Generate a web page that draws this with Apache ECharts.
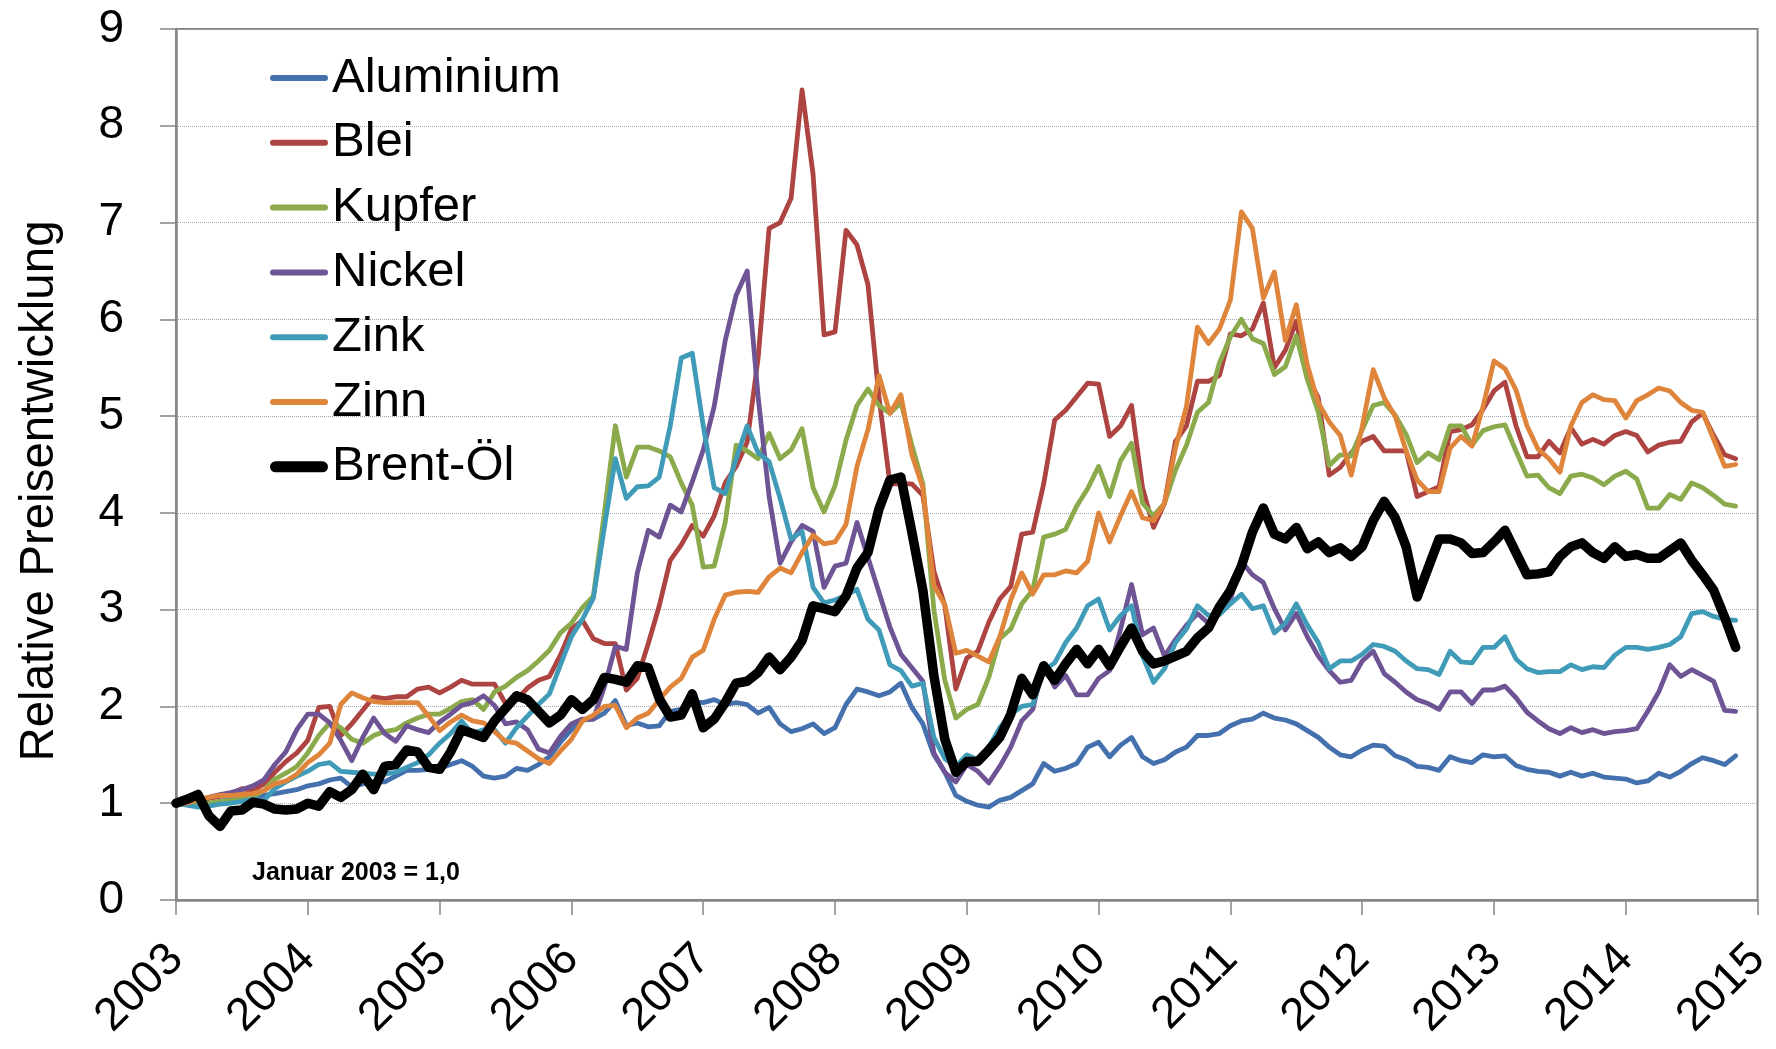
<!DOCTYPE html>
<html>
<head>
<meta charset="utf-8">
<script src="https://cdn.jsdelivr.net/npm/echarts@6/dist/echarts.min.js"></script>
<style>
  html, body { margin: 0; padding: 0; background: #fff; }
  #chart { width: 1776px; height: 1049px; }
</style>
</head>
<body>
<div id="chart"></div>
<script>
// Monatswerte Jan 2003 .. Nov 2014, relativ zu Januar 2003 = 1,0
const startYear = 2003
const seriesNames = ['Aluminium', 'Blei', 'Kupfer', 'Nickel', 'Zink', 'Zinn', 'Brent-Öl']
const seriesColors = ['#4471ae', '#ad4441', '#8baa4c', '#6e5494', '#3f9bb7', '#de853b', '#000000']

const aluminium = [
  1.0, 1.02, 1.0, 0.98, 1.02, 1.04, 1.05, 1.06, 1.08, 1.1, 1.12, 1.14, 1.18, 1.2, 1.24, 1.26, 1.17, 1.2, 1.22, 1.22, 1.28, 1.34, 1.34, 1.35, 1.36, 1.4,
  1.44, 1.38, 1.28, 1.26, 1.28, 1.36, 1.34, 1.4, 1.48, 1.63, 1.76, 1.86, 1.87, 1.93, 2.06, 1.8, 1.83, 1.79, 1.8, 1.95, 1.97, 2.05, 2.04,
  2.07, 2.02, 2.04, 2.02, 1.93, 1.99, 1.82, 1.74, 1.77, 1.82, 1.72, 1.78, 2.02, 2.18, 2.15, 2.11, 2.15, 2.24, 1.99, 1.82, 1.5, 1.32, 1.08, 1.02,
  0.98, 0.96, 1.03, 1.06, 1.13, 1.2, 1.41, 1.33, 1.36, 1.41, 1.58, 1.63, 1.48, 1.6, 1.68, 1.48, 1.41, 1.45, 1.53, 1.58, 1.7, 1.7, 1.72, 1.8,
  1.85, 1.87, 1.93, 1.88, 1.86, 1.82, 1.75, 1.68, 1.58, 1.5, 1.48, 1.55, 1.6, 1.59, 1.49, 1.45, 1.38, 1.37, 1.34, 1.48, 1.44, 1.42, 1.5,
  1.48, 1.49, 1.39, 1.35, 1.33, 1.32, 1.28, 1.32, 1.28, 1.31, 1.27, 1.26, 1.25, 1.21, 1.23, 1.31, 1.27, 1.33, 1.41, 1.47, 1.44, 1.4, 1.49
]
const blei = [
  1.0, 1.02, 1.03, 1.05, 1.07, 1.1, 1.15, 1.13, 1.2, 1.32, 1.43, 1.52, 1.65, 1.99, 2.0, 1.7, 1.82, 1.96, 2.1, 2.08, 2.1, 2.1, 2.18, 2.2, 2.14, 2.2,
  2.27, 2.23, 2.23, 2.23, 2.03, 2.07, 2.19, 2.27, 2.31, 2.53, 2.8, 2.89, 2.7, 2.65, 2.65, 2.17, 2.29, 2.65, 3.04, 3.51, 3.67, 3.87, 3.76,
  3.97, 4.31, 4.48, 4.73, 5.6, 6.94, 7.0, 7.25, 8.37, 7.5, 5.84, 5.87, 6.92, 6.77, 6.36, 5.2, 4.3, 4.3, 4.3, 4.18, 3.4, 3.04, 2.18, 2.5,
  2.57, 2.87, 3.11, 3.24, 3.78, 3.8, 4.3, 4.96, 5.06, 5.2, 5.34, 5.33, 4.79, 4.9, 5.11, 4.26, 3.85, 4.1, 4.74, 4.9, 5.36, 5.36, 5.42, 5.85,
  5.83, 5.9, 6.17, 5.5, 5.68, 5.98, 5.41, 5.19, 4.39, 4.47, 4.62, 4.74, 4.79, 4.64, 4.64, 4.64, 4.17, 4.22, 4.27, 4.84, 4.86, 4.91, 5.07,
  5.26, 5.35, 4.9, 4.58, 4.58, 4.74, 4.62, 4.88, 4.71, 4.76, 4.71, 4.8, 4.84, 4.8, 4.63, 4.7, 4.73, 4.74, 4.94, 5.03, 4.8, 4.6, 4.56
]
const kupfer = [
  1.0, 1.0, 0.99, 1.0, 1.02, 1.03, 1.05, 1.07, 1.13, 1.25, 1.31, 1.38, 1.52, 1.7, 1.83, 1.78, 1.66, 1.62, 1.7, 1.74, 1.76, 1.83, 1.88, 1.92, 1.92, 1.98,
  2.05, 2.07, 1.97, 2.15, 2.21, 2.3, 2.37, 2.47, 2.58, 2.76, 2.86, 3.02, 3.14, 4.0, 4.9, 4.37, 4.68, 4.68, 4.64, 4.58, 4.31, 4.08, 3.44,
  3.45, 3.9, 4.7, 4.64, 4.56, 4.82, 4.56, 4.65, 4.87, 4.26, 4.01, 4.28, 4.75, 5.11, 5.28, 5.11, 5.03, 5.14, 4.7, 4.3, 3.0, 2.27, 1.88, 1.97,
  2.02, 2.3, 2.7, 2.8, 3.06, 3.2, 3.75, 3.78, 3.83, 4.07, 4.25, 4.48, 4.17, 4.54, 4.72, 4.1, 3.97, 4.1, 4.44, 4.7, 5.04, 5.14, 5.55, 5.82,
  6.0, 5.8, 5.75, 5.43, 5.51, 5.83, 5.38, 5.04, 4.49, 4.6, 4.59, 4.86, 5.11, 5.14, 5.01, 4.81, 4.52, 4.62, 4.55, 4.9, 4.9, 4.7, 4.85,
  4.89, 4.91, 4.64, 4.38, 4.39, 4.26, 4.2, 4.38, 4.4, 4.36, 4.29, 4.38, 4.43, 4.35, 4.05, 4.05, 4.19, 4.14, 4.31, 4.26, 4.18, 4.09, 4.07
]
const nickel = [
  1.0, 1.04, 1.03, 1.06, 1.09, 1.11, 1.14, 1.18, 1.24, 1.4, 1.53, 1.76, 1.92, 1.92, 1.83, 1.65, 1.44, 1.68, 1.88, 1.72, 1.64, 1.8, 1.76, 1.73, 1.84, 1.92,
  2.01, 2.04, 2.11, 2.01, 1.82, 1.84, 1.76, 1.56, 1.52, 1.69, 1.82, 1.87, 1.87, 2.2, 2.62, 2.59, 3.38, 3.82, 3.75, 4.08, 4.01, 4.32, 4.65,
  5.1, 5.78, 6.25, 6.5, 5.2, 4.17, 3.48, 3.7, 3.87, 3.81, 3.23, 3.45, 3.48, 3.9, 3.54, 3.18, 2.82, 2.54, 2.4, 2.26, 1.52, 1.32, 1.22, 1.4,
  1.33, 1.21, 1.38, 1.58, 1.85, 1.97, 2.44, 2.2, 2.32, 2.12, 2.12, 2.29, 2.37, 2.8, 3.26, 2.74, 2.81, 2.52, 2.69, 2.84, 2.96, 2.86, 3.0, 3.1,
  3.5, 3.36, 3.28, 3.01, 2.79, 2.96, 2.72, 2.52, 2.37, 2.25, 2.27, 2.47, 2.57, 2.34, 2.25, 2.15, 2.07, 2.03, 1.97, 2.15, 2.15, 2.03, 2.17,
  2.17, 2.21, 2.09, 1.94, 1.85, 1.77, 1.72, 1.78, 1.73, 1.76, 1.72, 1.74, 1.75, 1.77, 1.95, 2.15, 2.43, 2.31, 2.38, 2.32, 2.26, 1.96, 1.95
]
const zink = [
  1.0, 0.98, 0.96, 0.97, 0.99, 1.0, 1.02, 1.04, 1.03, 1.15, 1.22, 1.28, 1.33, 1.4, 1.42, 1.33, 1.32, 1.31, 1.3, 1.3, 1.32, 1.37, 1.42, 1.5, 1.62, 1.72,
  1.85, 1.72, 1.76, 1.76, 1.62, 1.78, 1.9, 2.02, 2.13, 2.43, 2.72, 2.9, 3.12, 3.85, 4.56, 4.15, 4.27, 4.28, 4.37, 4.9, 5.6, 5.65, 4.9,
  4.26, 4.2, 4.56, 4.9, 4.62, 4.53, 4.15, 3.73, 3.81, 3.23, 3.07, 3.1, 3.15, 3.21, 2.9, 2.79, 2.43, 2.37, 2.21, 2.24, 1.68, 1.46, 1.38, 1.5,
  1.45, 1.58, 1.78, 1.92, 2.0, 2.02, 2.37, 2.45, 2.66, 2.81, 3.04, 3.11, 2.79, 2.94, 3.04, 2.52, 2.25, 2.39, 2.66, 2.8, 3.04, 2.94, 2.95, 3.06,
  3.16, 3.01, 3.04, 2.76, 2.86, 3.06, 2.84, 2.66, 2.39, 2.47, 2.47, 2.54, 2.64, 2.62, 2.57, 2.47, 2.39, 2.38, 2.33, 2.57, 2.46, 2.45, 2.61,
  2.61, 2.72, 2.49, 2.39, 2.35, 2.36, 2.36, 2.43, 2.38, 2.41, 2.4, 2.53, 2.61, 2.61, 2.59, 2.61, 2.64, 2.72, 2.96, 2.98, 2.93, 2.9, 2.89
]
const zinn = [
  1.0, 1.0, 1.04, 1.06, 1.08, 1.08, 1.09, 1.1, 1.13, 1.2, 1.23, 1.3, 1.42, 1.5, 1.62, 2.02, 2.14, 2.09, 2.05, 2.04, 2.04, 2.04, 2.04, 1.9, 1.75, 1.84,
  1.91, 1.85, 1.83, 1.74, 1.64, 1.62, 1.54, 1.46, 1.41, 1.54, 1.66, 1.85, 1.91, 2.0, 2.01, 1.78, 1.88, 1.93, 2.07, 2.2, 2.29, 2.51, 2.58,
  2.9, 3.15, 3.18, 3.19, 3.18, 3.34, 3.43, 3.38, 3.59, 3.77, 3.68, 3.7, 3.88, 4.48, 4.86, 5.42, 5.03, 5.22, 4.6, 4.26, 3.25, 3.05, 2.55, 2.58,
  2.52, 2.46, 2.72, 3.1, 3.38, 3.16, 3.36, 3.36, 3.4, 3.38, 3.5, 4.0, 3.7, 3.97, 4.22, 3.95, 3.92, 4.1, 4.67, 5.1, 5.92, 5.75, 5.9, 6.2,
  7.11, 6.94, 6.22, 6.49, 5.78, 6.15, 5.53, 5.14, 4.94, 4.8, 4.39, 4.89, 5.48, 5.19, 5.0, 4.64, 4.34, 4.22, 4.22, 4.67, 4.79, 4.69, 5.1,
  5.57, 5.49, 5.27, 4.9, 4.66, 4.56, 4.42, 4.9, 5.14, 5.22, 5.17, 5.16, 4.98, 5.16, 5.22, 5.29, 5.26, 5.14, 5.06, 5.04, 4.76, 4.48, 4.5
]
const brent = [
  1.0, 1.04, 1.09, 0.87, 0.76, 0.92, 0.93, 1.01, 0.99, 0.94, 0.93, 0.94, 1.0, 0.97, 1.12, 1.06, 1.14, 1.3, 1.14, 1.38, 1.4, 1.55, 1.53, 1.37, 1.35, 1.53,
  1.76, 1.72, 1.68, 1.85, 1.98, 2.11, 2.07, 1.95, 1.83, 1.91, 2.07, 1.97, 2.07, 2.3, 2.28, 2.25, 2.42, 2.4, 2.08, 1.89, 1.91, 2.13, 1.78,
  1.87, 2.04, 2.24, 2.26, 2.35, 2.51, 2.38, 2.51, 2.68, 3.04, 3.01, 2.98, 3.14, 3.43, 3.59, 4.04, 4.34, 4.37, 3.8, 3.2, 2.32, 1.66, 1.32, 1.43,
  1.43, 1.55, 1.68, 1.92, 2.29, 2.12, 2.42, 2.27, 2.44, 2.59, 2.44, 2.59, 2.42, 2.62, 2.81, 2.57, 2.44, 2.47, 2.52, 2.57, 2.71, 2.81, 3.03, 3.2,
  3.45, 3.8, 4.05, 3.78, 3.73, 3.85, 3.63, 3.7, 3.59, 3.64, 3.55, 3.65, 3.92, 4.12, 3.95, 3.65, 3.13, 3.43, 3.73, 3.73, 3.69, 3.58, 3.59,
  3.7, 3.82, 3.59, 3.36, 3.37, 3.39, 3.55, 3.65, 3.69, 3.59, 3.53, 3.65, 3.55, 3.57, 3.53, 3.53, 3.61, 3.69, 3.51, 3.36, 3.2, 2.92, 2.61
]

const seriesValues = [aluminium, blei, kupfer, nickel, zink, zinn, brent]
const fontName = '"Liberation Sans", Arial, sans-serif'
const axisGrey = '#868686'

// Legendensymbole: Linie mit runden Enden (Brent dicker)
const thinIcon = 'path://M3,0H55A3,3,0,0,1,55,6H3A3,3,0,0,1,3,0Z'
const thickIcon = 'path://M5.5,0H52.5A5.5,5.5,0,0,1,52.5,11H5.5A5.5,5.5,0,0,1,5.5,0Z'

// Monatsindex -> Jahreszahl auf der Zeitachse
const toPoints = (vals) => vals.map((v, i) => [startYear + i / 12, v])

const chart = echarts.init(document.getElementById('chart'))

const option = {
  animation: false,
  backgroundColor: '#fff',
  textStyle: { fontFamily: fontName, color: '#000' },
  grid: {
    left: 176, right: 18, top: 29, bottom: 149,
    show: true, borderColor: axisGrey, borderWidth: 2, backgroundColor: 'transparent'
  },
  legend: {
    orient: 'vertical',
    left: 270,
    top: 53,
    padding: 0,
    itemWidth: 58,
    itemHeight: 12,
    itemGap: 14.8,
    textStyle: { fontSize: 49, fontFamily: fontName, color: '#000', lineHeight: 50, padding: [0, 0, 0, -1] },
    data: seriesNames.map((name) => ({ name, icon: name === 'Brent-Öl' ? thickIcon : thinIcon }))
  },
  xAxis: {
    type: 'value',
    min: 2003, max: 2015, interval: 1,
    axisLine: { show: true, lineStyle: { color: axisGrey, width: 2.5 } },
    axisTick: { show: true, length: 15, lineStyle: { color: axisGrey, width: 1.5 } },
    splitLine: { show: false },
    axisLabel: {
      rotate: 45, margin: 52, fontSize: 46, color: '#000', fontFamily: fontName,
      formatter: (v) => String(v)
    }
  },
  yAxis: {
    type: 'value',
    min: 0, max: 9, interval: 1,
    axisLine: { show: true, lineStyle: { color: axisGrey, width: 2.5 } },
    axisTick: { show: true, length: 16, lineStyle: { color: axisGrey, width: 1.5 } },
    axisLabel: { margin: 52, fontSize: 46, color: '#000', fontFamily: fontName },
    splitLine: { show: true, lineStyle: { color: '#a6a6a6', width: 1, type: 'dotted' } }
  },
  graphic: [
    {
      type: 'text',
      x: 40, y: 491,
      rotation: Math.PI / 2,
      style: {
        text: 'Relative Preisentwicklung',
        font: '47.5px ' + fontName,
        fill: '#000',
        align: 'center', verticalAlign: 'middle'
      }
    },
    {
      type: 'text',
      left: 252,
      top: 861,
      style: { text: 'Januar 2003 = 1,0', font: 'bold 25px ' + fontName, fill: '#000' }
    }
  ],
  series: seriesNames.map((name, k) => ({
    name,
    type: 'line',
    data: toPoints(seriesValues[k]),
    symbol: 'none',
    color: seriesColors[k],
    lineStyle: {
      color: seriesColors[k],
      width: name === 'Brent-Öl' ? 9.5 : 4.8,
      join: 'round', cap: 'round'
    },
    z: 2 + k
  }))
}

chart.setOption(option)
</script>
</body>
</html>
